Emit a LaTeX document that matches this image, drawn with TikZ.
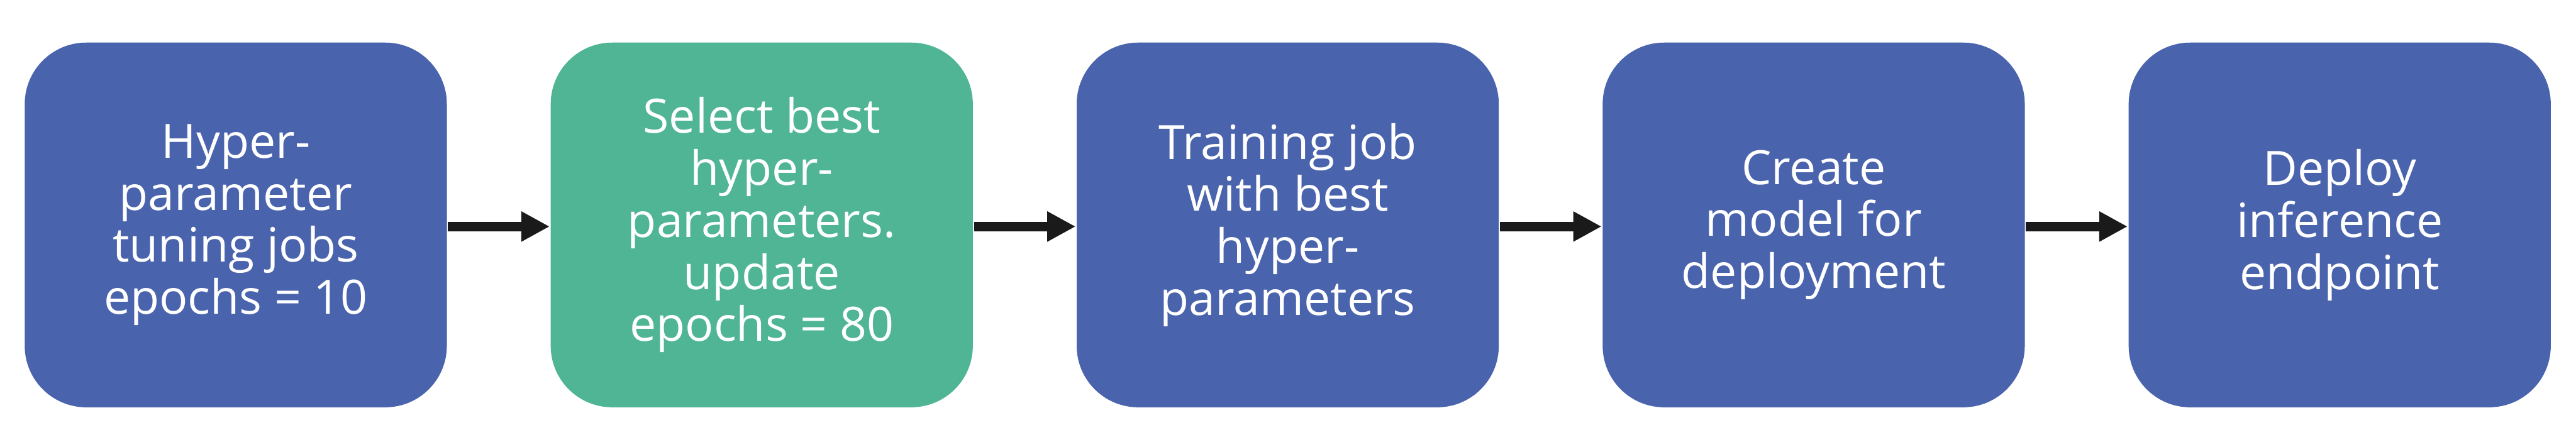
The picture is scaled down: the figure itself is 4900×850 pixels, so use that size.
\documentclass[tikz,border=0pt]{standalone}
\usepackage{fontspec}
\setmainfont{Open Sans}
\usetikzlibrary{arrows.meta}
\definecolor{boxblue}{HTML}{4A63AD}
\definecolor{boxgreen}{HTML}{4FB594}
\definecolor{arrowblack}{HTML}{1A1A1A}
\tikzset{
  stepbox/.style={rounded corners=11.7pt, minimum width=80.3pt, minimum height=69.4pt,
    inner sep=0pt, align=center, text=white, font=\fontsize{9}{9.9}\selectfont},
  bluebox/.style={stepbox, fill=boxblue},
  greenbox/.style={stepbox, fill=boxgreen},
  flow/.style={line width=1.8pt, draw=arrowblack, -{Triangle[length=5.4pt,width=5.4pt]}}
}
\begin{document}
\begin{tikzpicture}[x=0.1pt,y=-0.1pt]
\useasboundingbox (0,0) rectangle (4900,850);
\node[bluebox]  (b1) at (448.5,428) {Hyper-\\parameter\\tuning jobs\\epochs = 10};
\node[greenbox] (b2) at (1449,428) {Select best\\hyper-\\parameters.\\update\\epochs = 80};
\node[bluebox]  (b3) at (2449.5,428) {Training job\\with best\\hyper-\\parameters};
\node[bluebox]  (b4) at (3450,428) {Create\\model for\\deployment};
\node[bluebox]  (b5) at (4450.5,428) {Deploy\\inference\\endpoint};
\draw[flow] ([yshift=-0.3pt]b1.east) -- ([yshift=-0.3pt]b2.west);
\draw[flow] ([yshift=-0.3pt]b2.east) -- ([yshift=-0.3pt]b3.west);
\draw[flow] ([yshift=-0.3pt]b3.east) -- ([yshift=-0.3pt]b4.west);
\draw[flow] ([yshift=-0.3pt]b4.east) -- ([yshift=-0.3pt]b5.west);
\end{tikzpicture}
\end{document}
